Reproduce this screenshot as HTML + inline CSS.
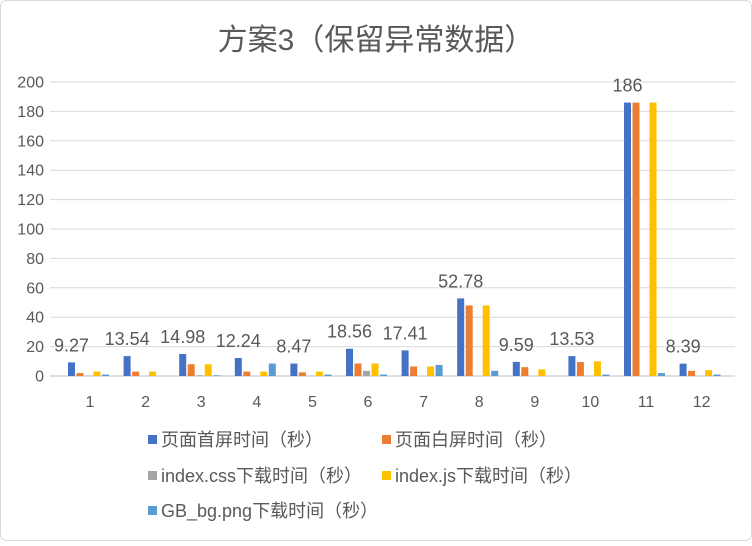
<!DOCTYPE html>
<html><head><meta charset="utf-8"><style>
body{margin:0;background:#fff;}
svg text{font-family:"Liberation Sans","Noto Sans CJK SC",sans-serif;fill:#595959;}
</style></head><body>
<svg width="752" height="541" xmlns="http://www.w3.org/2000/svg">
<rect x="0.5" y="0.5" width="751" height="540" rx="6" fill="#fff" stroke="#d9d9d9"/>
<text x="376" y="50" font-size="30" text-anchor="middle">方案3（保留异常数据）</text>
<g id="g"></g>
</svg>
<script>
const g=document.getElementById('g');let s='';
for(let i=0;i<=10;i++){const y=376-i*29.4;
 s+=`<line x1="50" x2="735" y1="${y}" y2="${y}" stroke="${i==0?'#bfbfbf':'#d9d9d9'}" stroke-width="1"/>`;
 s+=`<text x="44" y="${y+5.5}" font-size="16" text-anchor="end">${i*20}</text>`;}
const d=[[9.27,2,0.3,3,1],[13.54,3,0,3,0],[14.98,8,0.5,8,0.5],[12.24,3,0,3,8.5],[8.47,2.5,0.3,3,1],[18.56,8.5,3.5,8.5,1],[17.41,6.5,0,6.5,7.5],[52.78,48,0,48,3.5],[9.59,6,0,4.5,0],[13.53,9.5,0,10,1],[186,186,0,186,2],[8.39,3.5,0,4,1]];
const c=['#4472C4','#ED7D31','#A5A5A5','#FFC000','#5B9BD5'];
d.forEach((r,k)=>{const b=68+55.6*k;
 r.forEach((v,j)=>{const h=v*1.47;s+=`<rect x="${b+j*8.5}" y="${376-h}" width="7" height="${h}" fill="${c[j]}"/>`;});
 s+=`<text x="${b+3.5}" y="${376-r[0]*1.47-11}" font-size="18" text-anchor="middle">${r[0]}</text>`;
 s+=`<text x="${b+22}" y="407" font-size="16" text-anchor="middle">${k+1}</text>`;});
const L=[[148,440,'页面首屏时间（秒）'],[382,440,'页面白屏时间（秒）'],[148,476,'index.css下载时间（秒）'],[382,476,'index.js下载时间（秒）'],[148,511,'GB_bg.png下载时间（秒）']];
L.forEach((l,j)=>{s+=`<rect x="${l[0]}" y="${l[1]-5}" width="9" height="9" fill="${c[j]}"/><text x="${l[0]+13}" y="${l[1]+6}" font-size="18">${l[2]}</text>`;});
g.innerHTML=s;
</script>
</body></html>
